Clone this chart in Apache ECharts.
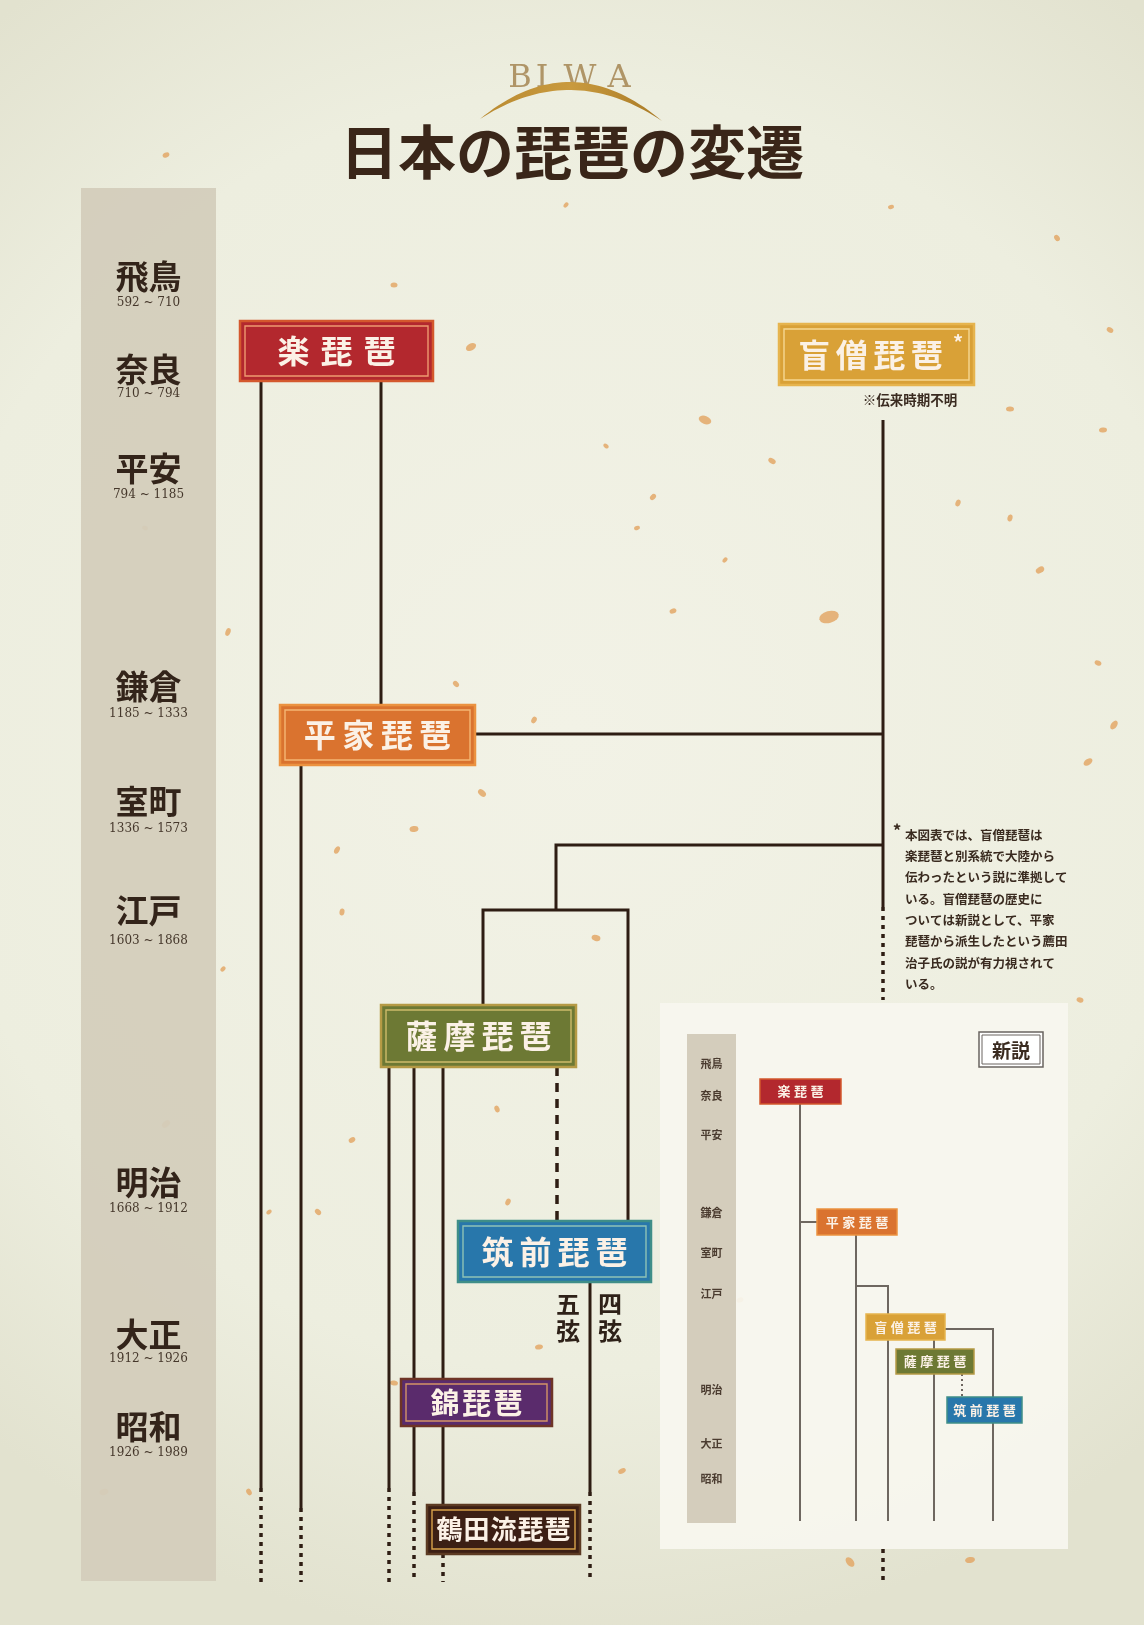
<!DOCTYPE html>
<html><head><meta charset="utf-8">
<script src="https://cdn.jsdelivr.net/npm/echarts@6/dist/echarts.min.js"></script>
<style>html,body{margin:0;padding:0;background:#EDEDDF;}#c{width:1144px;height:1625px;}</style>
</head><body><div id="c"></div>
<script>
const CJK = '"Noto Sans CJK JP", "Noto Sans CJK SC", sans-serif';
const SERIF = '"DejaVu Serif", "Liberation Serif", serif';

// ---- title ----
const titleText = '日本の琵琶の変遷';
const subLetters = ['B','I','W','A'];
const subLetterX = [520,542,580,619];

// ---- main timeline (eras) ----
const eraNames = ['飛鳥','奈良','平安','鎌倉','室町','江戸','明治','大正','昭和'];
const eraYears = ['592 ~ 710','710 ~ 794','794 ~ 1185','1185 ~ 1333','1336 ~ 1573','1603 ~ 1868','1668 ~ 1912','1912 ~ 1926','1926 ~ 1989'];
const eraNameRow = [276,369,468,686,801,910,1182,1334,1426];
const eraYearRow = [303,394,495,714,829,941,1209,1359,1453];
const eraBand = [81,188,216,1581];

// ---- main boxes ----
const boxNames  = ['楽琵琶','盲僧琵琶','平家琵琶','薩摩琵琶','筑前琵琶','錦琵琶','鶴田流琵琶'];
const boxLeft   = [240,779,280,381,458,401,427];
const boxTop    = [321,324,705,1005,1221,1379,1505];
const boxRight  = [433,974,475,576,651,552,580];
const boxBottom = [381,385,765,1067,1282,1426,1554];
const boxFill   = ['#B3282E','#D9A137','#DA732F','#6D7934','#2877AB','#5A2B6C','#3C1F14'];
const boxEdge   = ['#D4582D','#E6B44E','#EB9240','#B59A45','#3F8E88','#6E3426','#5C3A22'];
const boxInner  = ['#EE9A70','#F6D892','#F5B774','#CDBB6A','#8EC2B6','#D49466','#D8A24A'];
const boxFont   = [32,32,32,32,32,29,26];
const boxPitch  = [43,37.5,38.5,38,38,31.5,27];

// ---- main connecting lines ----
const routes = [
  [[261,381],[261,1488]], [[261,1488],[261,1582]],
  [[381,381],[381,705]],
  [[475,734],[883,734]],
  [[883,420],[883,907]], [[883,907],[883,1000]], [[883,1549],[883,1582]],
  [[883,845],[556,845],[556,910]],
  [[483,1005],[483,910],[628,910],[628,1221]],
  [[301,765],[301,1508]], [[301,1508],[301,1582]],
  [[389,1067],[389,1488]], [[389,1488],[389,1582]],
  [[414,1067],[414,1492]], [[414,1492],[414,1582]],
  [[443,1067],[443,1505]], [[443,1554],[443,1582]],
  [[557,1067],[557,1221]],
  [[590,1282],[590,1492]], [[590,1492],[590,1582]]
];
const routeKind = ['solid','dotted','solid','solid','solid','dotted','dotted','solid','solid','solid','dotted','solid','dotted','solid','dotted','solid','dotted','dashed','solid','dotted'];

// ---- inset (新説) ----
const insetPanel = [660,1003,1068,1549];
const insetBand = [687,1034,736,1523];
const insetEraRow = [1064,1096,1135,1213,1253,1294,1390,1444,1479];
const insetBoxRef = [0,2,1,3,4];
const insetLeft   = [760,817,866,896,947];
const insetTop    = [1079,1209,1314,1349,1397];
const insetRight  = [841,897,945,974,1022];
const insetBottom = [1104,1235,1340,1374,1423];
const insetRoutes = [
  [[800,1104],[800,1521]],
  [[800,1222],[817,1222]],
  [[856,1235],[856,1521]],
  [[856,1286],[888,1286],[888,1521]],
  [[945,1329],[993,1329],[993,1521]],
  [[934,1340],[934,1521]],
  [[962,1374],[962,1397]]
];
const insetRouteKind = ['solid','solid','solid','solid','solid','solid','dotted'];
const newTheoryBox = [979,1032,1043,1067];

// ---- notes ----
const noteLines = ['本図表では、盲僧琵琶は','楽琵琶と別系統で大陸から','伝わったという説に準拠して','いる。盲僧琵琶の歴史に','ついては新説として、平家','琵琶から派生したという薦田','治子氏の説が有力視されて','いる。'];
const stringLabels = ['五弦','四弦'];
const stringLabelX = [568,610];

// ---- paper flakes (decoration) ----
const flakeX = [471,705,829,534,482,414,342,596,653,637,772,958,1010,1088,850,622,508,394,166,249,104,1114,1098,1103,1010,606,673,725,456,352,539,497,269,337,145,223,394,166,1057,891,228,1080,1040,566,318,740,970,1110];
const flakeY = [347,420,617,720,793,829,912,938,497,528,461,503,409,762,1562,1471,1202,1383,1124,1492,1492,725,663,430,518,446,611,560,684,1140,1347,1109,1212,850,528,969,285,155,238,207,632,1000,570,205,1212,1300,1560,330];
const flakeW = [11,13,20,7,9,9,7,9,7,6,8,7,8,10,11,8,7,8,9,7,9,10,7,8,7,6,7,6,7,7,8,7,6,8,6,6,7,7,7,6,8,7,9,6,7,7,10,7];
const flakeH = [7,8,12,5,6,6,5,6,5,4,5,5,5,6,7,5,5,5,6,5,6,6,5,5,5,4,5,4,5,5,5,5,4,5,4,4,5,5,5,4,5,5,6,4,5,5,6,5];
const flakeA = [30,-20,15,60,-40,10,80,-15,45,20,-30,70,0,35,-50,25,65,-10,40,-60,15,55,-25,5,75,-35,20,50,-45,30,10,-70,35,60,-20,45,0,25,-55,15,70,-15,30,50,-40,20,10,-30];

const chart = echarts.init(document.getElementById('c'), null, {renderer:'canvas'});

function rectFromCoords(api, l, t, r, b){
  const p0 = api.coord([l,t]), p1 = api.coord([r,b]);
  return {x:p0[0], y:p0[1], width:p1[0]-p0[0], height:p1[1]-p0[1]};
}

function charRow(text, cx, cy, pitch, size, color){
  const chars = Array.from(text);
  const n = chars.length;
  return chars.map((ch,k)=>({
    type:'text',
    style:{text:ch, x:cx + (k-(n-1)/2)*pitch, y:cy, align:'center', verticalAlign:'middle',
      font:'bold '+size+'px '+CJK, fill:color}
  }));
}

// crescent swoosh under "BIWA": outline built from two quadratic curves
function swooshPoints(api){
  const a=[480,119], b=[662,121], cOut=[571,44], cIn=[571,60];
  const pts=[];
  const q=(p0,c,p1,t)=>[(1-t)*(1-t)*p0[0]+2*(1-t)*t*c[0]+t*t*p1[0],(1-t)*(1-t)*p0[1]+2*(1-t)*t*c[1]+t*t*p1[1]];
  for(let k=0;k<=40;k++) pts.push(api.coord(q(a,cOut,b,k/40)));
  for(let k=40;k>=0;k--) pts.push(api.coord(q(a,cIn,b,k/40)));
  return pts;
}

const option = {
  backgroundColor: {
    type:'radial', x:0.5, y:0.45, r:0.8,
    colorStops:[{offset:0,color:'#F2F2E6'},{offset:0.7,color:'#EDEEDF'},{offset:1,color:'#E2E2CF'}]
  },
  animation:false,
  title:{
    text:titleText, left:'center', top:118,
    textStyle:{fontFamily:CJK, fontWeight:'bold', fontSize:58, color:'#3A2619'}
  },
  grid:{left:0,right:0,top:0,bottom:0},
  xAxis:{type:'value', min:0, max:1144, show:false},
  yAxis:{type:'value', min:0, max:1625, inverse:true, show:false},
  series:[
    { // flakes
      type:'scatter', z:1, silent:true,
      data: flakeX.map((x,i)=>({value:[x,flakeY[i]], symbolSize:[flakeW[i],flakeH[i]], symbolRotate:flakeA[i]})),
      symbol:'circle',
      itemStyle:{color:'#E2A460', opacity:0.8}
    },
    { // BIWA + swoosh
      type:'custom', z:2, silent:true,
      data:[[0]],
      renderItem:(params, api)=>{
        const children = subLetters.map((ch,k)=>{
          const p = api.coord([subLetterX[k], 79]);
          return {type:'text', style:{text:ch, x:p[0], y:p[1], align:'center', verticalAlign:'middle',
            font:'32px '+SERIF, fill:'#A88B5A', opacity:0.9}};
        });
        children.push({type:'polygon', shape:{points:swooshPoints(api)},
          style:{fill:{type:'linear',x:0,y:0,x2:1,y2:0,colorStops:[{offset:0,color:'#B98A30'},{offset:0.5,color:'#C99A3E'},{offset:1,color:'#A97A26'}]}}});
        return {type:'group', children};
      }
    },
    { // era band + labels
      type:'custom', z:2, silent:true,
      data: eraNames.map((n,i)=>[i]),
      renderItem:(params, api)=>{
        const i = api.value(0);
        const children = [];
        if (i===0){
          children.push({type:'rect', shape:rectFromCoords(api, eraBand[0], eraBand[1], eraBand[2], eraBand[3]),
            style:{fill:'#D4CDBC', opacity:0.95}});
        }
        const cx = (eraBand[0]+eraBand[2])/2;
        const pn = api.coord([cx, eraNameRow[i]]);
        const py = api.coord([cx, eraYearRow[i]]);
        children.push({type:'text', style:{text:eraNames[i], x:pn[0], y:pn[1], align:'center', verticalAlign:'middle',
          font:'bold 33px '+CJK, fill:'#33241A'}});
        children.push({type:'text', style:{text:eraYears[i], x:py[0], y:py[1], align:'center', verticalAlign:'middle',
          font:'12px '+SERIF, fill:'#45372B'}});
        return {type:'group', children};
      }
    },
    { // main lines
      type:'lines', coordinateSystem:'cartesian2d', polyline:true, z:3, silent:true,
      data: routes.map((r,i)=>({
        coords:r,
        lineStyle:{
          type: routeKind[i]==='dotted' ? [4,5] : (routeKind[i]==='dashed' ? [9,7] : 'solid'),
          width: routeKind[i]==='solid' ? 3 : 3.5,
          color:'#2E1D13', opacity:1, cap:'butt', join:'miter'
        }
      }))
    },
    { // inset panel + era column + labels + 新説
      type:'custom', z:4, silent:true,
      data: eraNames.map((n,i)=>[i]),
      renderItem:(params, api)=>{
        const i = api.value(0);
        const children = [];
        if (i===0){
          children.push({type:'rect', shape:rectFromCoords(api, insetPanel[0], insetPanel[1], insetPanel[2], insetPanel[3]),
            style:{fill:'#F7F6EF', opacity:0.93}});
          children.push({type:'rect', shape:rectFromCoords(api, insetBand[0], insetBand[1], insetBand[2], insetBand[3]),
            style:{fill:'#D4CDBC'}});
          const nb = rectFromCoords(api, newTheoryBox[0], newTheoryBox[1], newTheoryBox[2], newTheoryBox[3]);
          children.push({type:'rect', shape:nb, style:{fill:'#FFFFFF', stroke:'#6A6460', lineWidth:1.5}});
          children.push({type:'rect', shape:{x:nb.x+3,y:nb.y+3,width:nb.width-6,height:nb.height-6}, style:{fill:'none', stroke:'#6A6460', lineWidth:1}});
          children.push({type:'text', style:{text:'新説', x:nb.x+nb.width/2, y:nb.y+nb.height/2+1, align:'center', verticalAlign:'middle',
            font:'bold 19px '+CJK, fill:'#3A2B20'}});
        }
        const cx = (insetBand[0]+insetBand[2])/2;
        const p = api.coord([cx, insetEraRow[i]]);
        children.push({type:'text', style:{text:eraNames[i], x:p[0], y:p[1], align:'center', verticalAlign:'middle',
          font:'bold 11px '+CJK, fill:'#4B3C30'}});
        return {type:'group', children};
      }
    },
    { // inset lines
      type:'lines', coordinateSystem:'cartesian2d', polyline:true, z:5, silent:true,
      data: insetRoutes.map((r,i)=>({
        coords:r,
        lineStyle:{type: insetRouteKind[i]==='dotted' ? [2,3] : 'solid', width:2, color:'#6E6760', opacity:1, join:'miter'}
      }))
    },
    { // inset boxes
      type:'custom', z:6, silent:true,
      data: insetBoxRef.map((ref,i)=>[insetLeft[i], insetTop[i], insetRight[i], insetBottom[i], i]),
      renderItem:(params, api)=>{
        const i = api.value(4), ref = insetBoxRef[i];
        const r = rectFromCoords(api, api.value(0), api.value(1), api.value(2), api.value(3));
        const children = [{type:'rect', shape:r, style:{fill:boxFill[ref], stroke:boxEdge[ref], lineWidth:1.5}}];
        return {type:'group', children: children.concat(charRow(boxNames[ref], r.x+r.width/2, r.y+r.height/2, 16.5, 13, '#FBF1E6'))};
      }
    },
    { // main boxes
      type:'custom', z:7, silent:true,
      data: boxNames.map((n,i)=>[boxLeft[i], boxTop[i], boxRight[i], boxBottom[i], i]),
      renderItem:(params, api)=>{
        const i = api.value(4);
        const r = rectFromCoords(api, api.value(0), api.value(1), api.value(2), api.value(3));
        const children = [
          {type:'rect', shape:r, style:{fill:boxFill[i], stroke:boxEdge[i], lineWidth:2.5}},
          {type:'rect', shape:{x:r.x+5, y:r.y+5, width:r.width-10, height:r.height-10}, style:{fill:'none', stroke:boxInner[i], lineWidth:1.4}}
        ];
        let cx = r.x + r.width/2;
        if (i===1) cx -= 6;
        const txt = charRow(boxNames[i], cx, r.y+r.height/2, boxPitch[i], boxFont[i], '#FBF1E6');
        if (i===1){
          txt.push({type:'text', style:{text:'*', x:r.x+r.width-16, y:r.y+18, align:'center', verticalAlign:'middle',
            font:'bold 20px '+CJK, fill:'#FBF1E6'}});
        }
        return {type:'group', children: children.concat(txt)};
      }
    },
    { // annotation texts
      type:'custom', z:8, silent:true,
      data:[[0]],
      renderItem:(params, api)=>{
        const children = [];
        const pm = api.coord([910, 400]);
        children.push({type:'text', style:{text:'※伝来時期不明', x:pm[0], y:pm[1], align:'center', verticalAlign:'middle',
          font:'bold 13.5px '+CJK, fill:'#3A2B20'}});
        const pa = api.coord([897, 831]);
        children.push({type:'text', style:{text:'*', x:pa[0], y:pa[1], align:'center', verticalAlign:'middle',
          font:'bold 17px '+CJK, fill:'#3A2B20'}});
        noteLines.forEach((ln,k)=>{
          const p = api.coord([905, 835 + k*21.3]);
          children.push({type:'text', style:{text:ln, x:p[0], y:p[1], align:'left', verticalAlign:'middle',
            font:'bold 12.5px '+CJK, fill:'#3A2B20'}});
        });
        stringLabels.forEach((lab,k)=>{
          Array.from(lab).forEach((ch,j)=>{
            const p = api.coord([stringLabelX[k], 1304 + j*27]);
            children.push({type:'text', style:{text:ch, x:p[0], y:p[1], align:'center', verticalAlign:'middle',
              font:'bold 24px '+CJK, fill:'#2E2118'}});
          });
        });
        return {type:'group', children};
      }
    }
  ]
};
chart.setOption(option);
</script>
</body></html>
